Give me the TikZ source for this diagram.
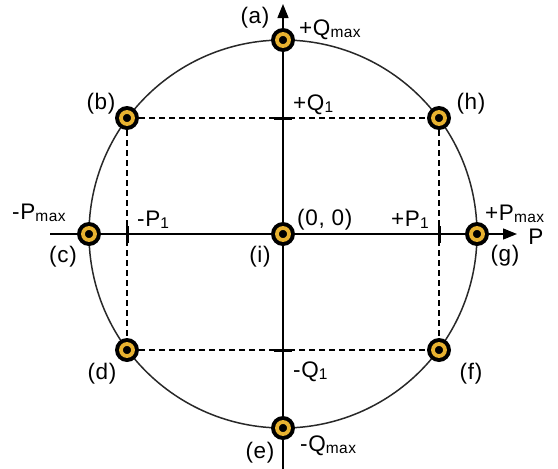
\documentclass[tikz,border=0pt]{standalone}
\usepackage{fontspec}
\setmainfont{Liberation Sans}[LetterSpace=3]
\usetikzlibrary{arrows.meta}
\definecolor{ringgold}{RGB}{232,178,48}
\definecolor{circgray}{RGB}{40,40,40}
\newcommand\sbs[1]{{\fontsize{15.5}{15.5}\selectfont\raisebox{-1.5pt}{#1}}}
\begin{document}
\begin{tikzpicture}[x=1pt,y=-1pt,
  marker/.style={circle, fill=black, minimum size=24pt, inner sep=0pt,
    path picture={\draw[ringgold, line width=3.8pt] (path picture bounding box.center) circle[radius=6pt];}},
  lab/.style={inner sep=0pt, font=\fontsize{22.5}{26}\selectfont, text=black},
  axis/.style={line width=1.4pt, -{Triangle[length=14pt,width=11pt]}},
  tick/.style={line width=3pt},
  dashline/.style={line width=1.2pt, dash pattern=on 6pt off 4pt}]
\useasboundingbox (0,0) rectangle (558,469);
% circle
\coordinate (o) at (283,234);
\draw[circgray, line width=1.5pt] (o) circle[radius=194pt];
% axes
\coordinate (ybot) at (283,469);
\coordinate (ytop) at (283,4);
\coordinate (xl) at (50,234);
\coordinate (xr) at (517,234);
\draw[axis] (ybot) -- (ytop);
\draw[axis] (xl) -- (xr);
% markers
\node[marker] (a) at (283,40) {};
\node[marker] (b) at (127,118) {};
\node[marker] (h) at (439,118) {};
\node[marker] (c) at (89,234) {};
\node[marker] (i) at (283,234) {};
\node[marker] (g) at (477,234) {};
\node[marker] (d) at (127,350) {};
\node[marker] (f) at (439,350) {};
\node[marker] (e) at (283,428) {};
% dashed rectangle
\draw[dashline] (b) -- (h);
\draw[dashline] (d) -- (f);
\draw[dashline] (b) -- (d);
\draw[dashline] (h) -- (f);
% ticks
\coordinate (t1a) at (127,226); \coordinate (t1b) at (127,243);
\coordinate (t2a) at (439,226); \coordinate (t2b) at (439,243);
\coordinate (t3a) at (274,118); \coordinate (t3b) at (292,118);
\coordinate (t4a) at (274,350); \coordinate (t4b) at (292,350);
\draw[tick] (t1a) -- (t1b);
\draw[tick] (t2a) -- (t2b);
\draw[tick] (t3a) -- (t3b);
\draw[tick] (t4a) -- (t4b);
% labels
\node[lab] (la) at (255,18) {(a)};
\node[lab, anchor=west] (lqmax) at (299,30) {+Q\sbs{max}};
\node[lab] (lb) at (101,104) {(b)};
\node[lab, anchor=west] (lq1) at (293,105) {+Q\sbs{1}};
\node[lab] (lh) at (471,104) {(h)};
\node[lab, anchor=west] (lpmaxm) at (12,213) {-P\sbs{max}};
\node[lab, anchor=west] (lp1m) at (137,220) {-P\sbs{1}};
\node[lab, anchor=west] (l00) at (297,220) {(0, 0)};
\node[lab, anchor=west] (lp1) at (391,220) {+P\sbs{1}};
\node[lab, anchor=west] (lpmax) at (485,214) {+P\sbs{max}};
\node[lab] (lp) at (536,237) {P};
\node[lab] (lc) at (63,257) {(c)};
\node[lab] (li) at (260,257) {(i)};
\node[lab] (lg) at (505,256) {(g)};
\node[lab] (ld) at (102,374) {(d)};
\node[lab, anchor=west] (lq1m) at (293,372) {-Q\sbs{1}};
\node[lab] (lf) at (471,374) {(f)};
\node[lab] (le) at (260,453) {(e)};
\node[lab, anchor=west] (lqmaxm) at (300,446) {-Q\sbs{max}};
\end{tikzpicture}
\end{document}
